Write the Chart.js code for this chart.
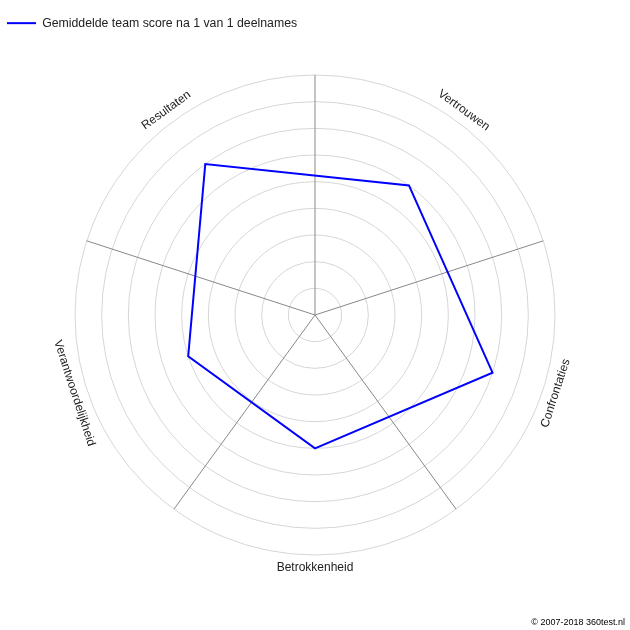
<!DOCTYPE html>
<html>
<head>
<meta charset="utf-8">
<script src="https://cdn.jsdelivr.net/npm/chart.js@4/dist/chart.umd.min.js"></script>
<style>
  html, body { margin: 0; padding: 0; background: #fff; }
  #wrap { width: 630px; height: 630px; position: relative; }
</style>
</head>
<body>
<div id="wrap"><canvas id="chartRadar"></canvas></div>
<script>
// categorieen en scores (schaal 1 - 10)
const categorieen = ['Vertrouwen', 'Confrontaties', 'Betrokkenheid', 'Verantwoordelijkheid', 'Resultaten'];
const scores = [7, 8, 6, 6, 8];
const reeksNaam = 'Gemiddelde team score na 1 van 1 deelnames';
const schaalMin = 1;
const schaalMax = 10;
const copyright = '\u00a9 2007-2018 360test.nl';

// de spaken liggen tussen de categorieen: lege labels op de even posities
const labels = [];
const waarden = [];
categorieen.forEach(function (c, i) {
    labels.push('');
    waarden.push(null);
    labels.push(c);
    waarden.push(scores[i]);
});

Chart.defaults.font.family = "Arial, 'Liberation Sans', sans-serif";
Chart.defaults.color = '#222';

// vaste hoogte voor de legenda zodat het web precies in het midden staat
const legendaHoogte = {
    id: 'legendaHoogte',
    beforeLayout(chart) {
        const lg = chart.legend;
        if (lg && !lg._vast) {
            const fit = lg.fit;
            lg.fit = function () { fit.call(this); this.height = 68; };
            lg._vast = true;
        }
    }
};

// gedraaide labels langs de buitenste cirkel + copyright
const labelsTekenen = {
    id: 'labelsTekenen',
    afterDraw(chart) {
        const ctx = chart.ctx;
        const r = chart.scales.r;
        ctx.save();
        ctx.font = "12px Arial, 'Liberation Sans', sans-serif";
        ctx.fillStyle = '#222';
        ctx.textAlign = 'center';
        ctx.textBaseline = 'middle';
        labels.forEach(function (lbl, i) {
            if (!lbl) return;
            const pos = r.getPointPosition(i, r.drawingArea + 13);
            let hoek = r.getIndexAngle(i) % (Math.PI * 2);
            if (hoek > Math.PI / 2 && hoek < Math.PI * 1.5) hoek -= Math.PI;
            ctx.save();
            ctx.translate(pos.x, pos.y);
            ctx.rotate(hoek);
            ctx.fillText(lbl, 0, 0);
            ctx.restore();
        });
        ctx.font = "9px Arial, 'Liberation Sans', sans-serif";
        ctx.fillStyle = '#000';
        ctx.textAlign = 'right';
        ctx.fillText(copyright, chart.width - 5, chart.height - 7);
        ctx.restore();
    }
};

const ctxRadar = document.getElementById('chartRadar');
new Chart(ctxRadar, {
    type: 'radar',
    data: {
        labels: labels,
        datasets: [{
            label: reeksNaam,
            data: waarden,
            borderColor: '#0000ff',
            backgroundColor: 'rgba(0,0,0,0)',
            borderWidth: 2,
            pointRadius: 0,
            pointHoverRadius: 0,
            fill: false,
            spanGaps: true,
            tension: 0
        }]
    },
    options: {
        responsive: true,
        maintainAspectRatio: false,
        animation: false,
        layout: { padding: { top: 7, bottom: 75, left: -3, right: -3 } },
        plugins: {
            legend: {
                position: 'top',
                align: 'start',
                labels: {
                    usePointStyle: true,
                    pointStyle: 'line',
                    pointStyleWidth: 29,
                    boxHeight: 12,
                    padding: 10,
                    color: '#222',
                    font: { size: 12.3 }
                },
                onClick: null
            },
            tooltip: { enabled: false }
        },
        scales: {
            r: {
                min: schaalMin,
                max: schaalMax,
                ticks: { display: false, stepSize: 1 },
                grid: { color: '#d6d6d6', lineWidth: 1, circular: true },
                angleLines: {
                    color: function (c) { return c.index % 2 === 0 ? '#888888' : 'rgba(0,0,0,0)'; },
                    lineWidth: function (c) { return c.index % 2 === 0 ? 1 : 0; }
                },
                pointLabels: { display: false }
            }
        }
    },
    plugins: [legendaHoogte, labelsTekenen]
});
</script>
</body>
</html>
